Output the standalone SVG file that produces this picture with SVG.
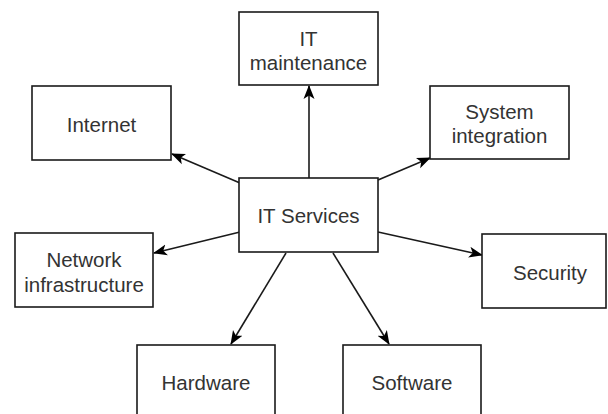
<svg xmlns="http://www.w3.org/2000/svg" width="608" height="414" viewBox="0 0 608 414">
<style>
.box{fill:#fff;stroke:#1a1a1a;stroke-width:1.6}
.lbl{font-family:"Liberation Sans",Arial,sans-serif;font-size:20.5px;fill:#333;text-anchor:middle}
.edge{stroke:#1a1a1a;stroke-width:1.6;fill:none;marker-end:url(#arr)}
</style>
<defs>
<marker id="arr" markerUnits="userSpaceOnUse" markerWidth="15" markerHeight="12" refX="13" refY="5.5" orient="auto" viewBox="0 0 15 11">
<path d="M0,0 L14,5.5 L0,11 L3.5,5.5 z" fill="#000"/>
</marker>
</defs>
<rect width="608" height="414" fill="#fff"/>
<g id="connectors">
<line class="edge" x1="309" y1="178" x2="309" y2="86"/>
<line class="edge" x1="240" y1="183" x2="172" y2="154"/>
<line class="edge" x1="378" y1="180" x2="430" y2="158"/>
<line class="edge" x1="240" y1="232" x2="154" y2="253"/>
<line class="edge" x1="378" y1="232" x2="482" y2="255"/>
<line class="edge" x1="286" y1="253" x2="231" y2="344"/>
<line class="edge" x1="333" y1="253" x2="389" y2="344"/>
</g>
<g id="it-maintenance">
<rect class="box" x="239" y="12" width="139" height="73"/>
<text class="lbl" x="308.5" y="46">IT</text>
<text class="lbl" x="308.5" y="69.5">maintenance</text>
</g>
<g id="internet">
<rect class="box" x="32" y="86" width="139" height="74"/>
<text class="lbl" x="101.5" y="131.5">Internet</text>
</g>
<g id="system-integration">
<rect class="box" x="430" y="86" width="139" height="73"/>
<text class="lbl" x="499.5" y="119">System</text>
<text class="lbl" x="499.5" y="143">integration</text>
</g>
<g id="it-services">
<rect class="box" x="239" y="178" width="139" height="74"/>
<text class="lbl" x="308.5" y="223">IT Services</text>
</g>
<g id="network-infrastructure">
<rect class="box" x="15" y="233" width="138" height="74"/>
<text class="lbl" x="84" y="267">Network</text>
<text class="lbl" x="84" y="291.5">infrastructure</text>
</g>
<g id="security">
<rect class="box" x="482" y="234" width="124" height="74"/>
<text class="lbl" x="550" y="280">Security</text>
</g>
<g id="hardware">
<rect class="box" x="137" y="345" width="138" height="74"/>
<text class="lbl" x="206" y="390">Hardware</text>
</g>
<g id="software">
<rect class="box" x="343" y="345" width="138" height="74"/>
<text class="lbl" x="412" y="390">Software</text>
</g>
</svg>
